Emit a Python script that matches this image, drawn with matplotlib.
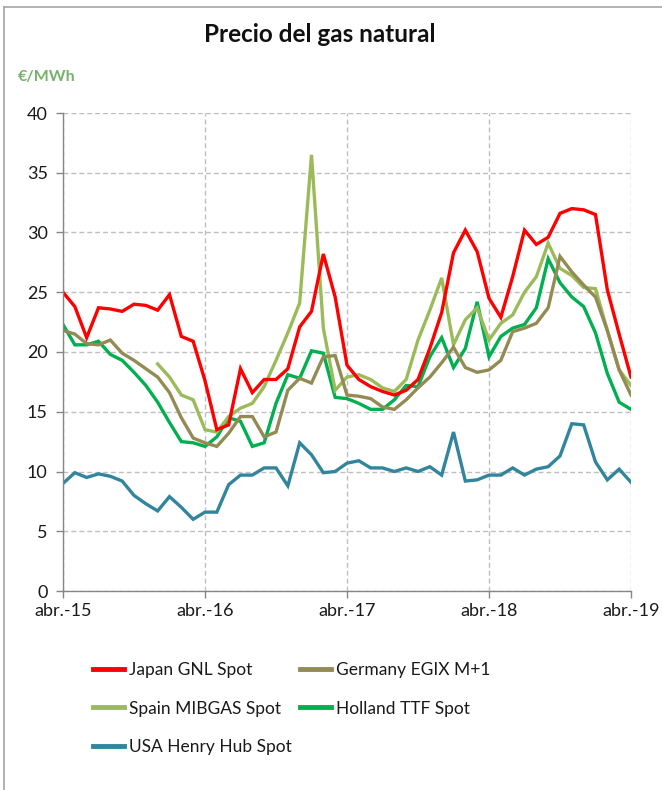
import numpy as np
import matplotlib
matplotlib.use('Agg')
import matplotlib.pyplot as plt
from matplotlib.lines import Line2D

# monthly series, abr.-15 .. abr.-19 (49 months), €/MWh
months = np.arange(49)
tick_pos = [0, 12, 24, 36, 48]
tick_labels = ['abr.-15', 'abr.-16', 'abr.-17', 'abr.-18', 'abr.-19']

japan = [25.0, 23.8, 21.2, 23.7, 23.6, 23.4, 24.0, 23.9, 23.5, 24.8,
         21.3, 20.9, 17.6, 13.5, 13.9, 18.6, 16.6, 17.7, 17.7, 18.6,
         22.1, 23.4, 28.2, 24.6, 18.9, 17.7, 17.1, 16.7, 16.4, 16.8,
         17.7, 20.3, 23.3, 28.3, 30.2, 28.4, 24.5, 22.9, 26.3, 30.2,
         29.0, 29.6, 31.6, 32.0, 31.9, 31.5, 25.2, 21.5, 17.9]
germany = [21.8, 21.5, 20.7, 20.6, 21.0, 19.9, 19.3, 18.6, 17.9, 16.6,
           14.5, 12.8, 12.4, 12.1, 13.2, 14.6, 14.6, 12.9, 13.3, 16.8,
           17.8, 17.4, 19.6, 19.7, 16.4, 16.3, 16.1, 15.4, 15.2, 16.0,
           17.0, 17.9, 19.1, 20.4, 18.7, 18.3, 18.5, 19.3, 21.7, 22.0,
           22.4, 23.7, 28.0, 26.7, 25.6, 24.6, 21.8, 18.5, 16.4]
spain = [np.nan] * 8 + [
         19.0, 17.9, 16.4, 16.0, 13.5, 13.3, 14.6, 15.3, 15.7, 17.1,
         19.3, 21.6, 24.1, 36.5, 22.0, 16.8, 17.9, 18.1, 17.7, 17.0,
         16.7, 17.7, 21.0, 23.5, 26.2, 20.6, 22.7, 23.7, 21.0, 22.4,
         23.1, 25.0, 26.3, 29.1, 27.0, 26.4, 25.4, 25.3, 21.8, 18.5,
         17.2]
holland = [22.3, 20.6, 20.6, 20.9, 19.8, 19.3, 18.3, 17.2, 15.8, 14.1,
           12.5, 12.4, 12.1, 12.9, 14.5, 14.2, 12.1, 12.4, 15.7, 18.1,
           17.8, 20.1, 19.9, 16.2, 16.1, 15.7, 15.2, 15.2, 16.0, 17.2,
           17.1, 19.6, 21.2, 18.7, 20.3, 24.2, 19.6, 21.3, 22.0, 22.3,
           23.7, 27.8, 25.8, 24.6, 23.8, 21.6, 18.2, 15.8, 15.2]
usa = [9.0, 9.9, 9.5, 9.8, 9.6, 9.2, 8.0, 7.3, 6.7, 7.9,
       7.0, 6.0, 6.6, 6.6, 8.9, 9.7, 9.7, 10.3, 10.3, 8.8,
       12.4, 11.4, 9.9, 10.0, 10.7, 10.9, 10.3, 10.3, 10.0, 10.3,
       10.0, 10.4, 9.7, 13.3, 9.2, 9.3, 9.7, 9.7, 10.3, 9.7,
       10.2, 10.4, 11.3, 14.0, 13.9, 10.8, 9.3, 10.2, 9.1]

series = [
    ('Japan GNL Spot', japan, '#FF0000'),
    ('Germany EGIX M+1', germany, '#948A54'),
    ('Spain MIBGAS Spot', spain, '#9BBB59'),
    ('Holland TTF Spot', holland, '#00B050'),
    ('USA Henry Hub Spot', usa, '#31859C'),
]

plt.rcParams['font.family'] = ['Lato', 'DejaVu Sans']

fig = plt.figure(figsize=(6.62, 7.90), dpi=100)
ax = fig.add_axes([63 / 662, 1 - 591 / 790, 568 / 662, 478 / 790])

lines = {}
for name, vals, col in [series[4], series[3], series[2], series[1], series[0]]:
    lines[name], = ax.plot(months, vals, color=col, lw=2.4,
                           solid_joinstyle='miter', label=name)

ax.set_xlim(0, 48)
ax.set_ylim(0, 40)
ax.set_yticks(range(0, 41, 5))
ax.set_xticks(tick_pos)
ax.set_xticklabels(tick_labels)
ax.tick_params(axis='both', labelsize=13, colors='#868686', labelcolor='#1a1a1a',
               length=5, width=1)
ax.tick_params(axis='x', pad=4)
ax.tick_params(axis='y', pad=6)
ax.grid(True, color='#BFBFBF', linestyle=(0, (3.5, 2.2)), lw=1.0)
ax.set_axisbelow(True)
for s in ['top', 'right']:
    ax.spines[s].set_visible(False)
for s in ['left', 'bottom']:
    ax.spines[s].set_color('#868686')
    ax.spines[s].set_linewidth(1.0)

fig.text(320 / 662, 1 - 35 / 790, 'Precio del gas natural', ha='center', va='center',
         fontsize=17.5, fontweight='bold', color='#111111')
fig.text(18 / 662, 1 - 77 / 790, '€/MWh', ha='left', va='center',
         fontsize=11.5, fontweight='bold', color='#77B26C')

# legend: two columns placed at fixed positions
cols = [['Japan GNL Spot', 'Spain MIBGAS Spot', 'USA Henry Hub Spot'],
        ['Germany EGIX M+1', 'Holland TTF Spot']]
for names, x0 in zip(cols, [93, 300]):
    handles = [Line2D([], [], color=lines[n].get_color(), lw=3.5) for n in names]
    fig.legend(handles, names, ncol=1, frameon=False, fontsize=12.5,
               loc='upper left', bbox_to_anchor=(x0 / 662, 1 - 662 / 790),
               borderpad=0, borderaxespad=0,
               handlelength=1.8, handletextpad=0.3, labelspacing=1.3,
               labelcolor='#1a1a1a')

# chart border
fig.add_artist(Line2D([4 / 662, 4 / 662], [0, 1 - 7 / 790], color='#A6A6A6', lw=1.2,
                      transform=fig.transFigure))
fig.add_artist(Line2D([4 / 662, 1], [1 - 7 / 790, 1 - 7 / 790], color='#A6A6A6', lw=1.2,
                      transform=fig.transFigure))

fig.savefig('out.png', dpi=100)
